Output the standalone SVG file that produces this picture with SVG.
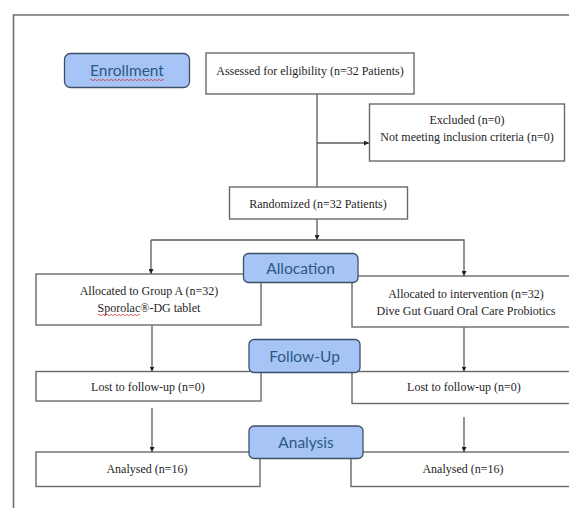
<svg xmlns="http://www.w3.org/2000/svg" width="569" height="508" viewBox="0 0 569 508">
<defs>
<style>
.frame{fill:none;stroke:#707070;stroke-width:1.6}
.box{fill:#ffffff;stroke:#6a6a6a;stroke-width:1.4}
.phase{fill:#a6c5f6;stroke:#3e5068;stroke-width:1.3}
.ptext{font-family:Lato,"Open Sans",sans-serif;font-size:15.5px;fill:#2c5884;text-anchor:middle;dominant-baseline:central}
.btext{font-family:"Liberation Serif","Times New Roman",serif;font-size:12px;fill:#1e1e1e;text-anchor:middle;dominant-baseline:central}
.conn{fill:none;stroke:#5a5a5a;stroke-width:1.3}
.squig{fill:none;stroke:#d23c3c;stroke-width:0.8}
</style>
<marker id="arr" viewBox="0 0 10 10" refX="10" refY="5" markerWidth="5" markerHeight="5" orient="auto" markerUnits="userSpaceOnUse">
<path d="M0,0 L10,5 L0,10 z" fill="#222222"/>
</marker>
</defs>
<rect width="569" height="508" fill="#ffffff"/>
<path class="frame" d="M13.5,510 V15 H575"/>

<g id="connectors">
<path class="conn" d="M317,94 V187"/>
<path class="conn" d="M317,143 H369" marker-end="url(#arr)"/>
<path class="conn" d="M317,219 V240" marker-end="url(#arr)"/>
<path class="conn" d="M151,240 H464 V276" marker-end="url(#arr)"/>
<path class="conn" d="M151,240 V274" marker-end="url(#arr)"/>
<path class="conn" d="M152,325 V371.5" marker-end="url(#arr)"/>
<path class="conn" d="M464,327 V371.5" marker-end="url(#arr)"/>
<path class="conn" d="M152,408 V452" marker-end="url(#arr)"/>
<path class="conn" d="M464,417 V452" marker-end="url(#arr)"/>
</g>

<g id="assessed">
<rect class="box" x="206" y="53" width="208" height="41"/>
<text class="btext" x="310" y="71">Assessed for eligibility (n=32 Patients)</text>
</g>
<g id="excluded">
<rect class="box" x="369.5" y="104" width="195" height="57"/>
<text class="btext" x="467" y="120">Excluded (n=0)</text>
<text class="btext" x="467" y="137">Not meeting inclusion criteria (n=0)</text>
</g>
<g id="randomized">
<rect class="box" x="229.5" y="187" width="178" height="32"/>
<text class="btext" x="318" y="204">Randomized (n=32 Patients)</text>
</g>
<g id="groupA">
<rect class="box" x="36" y="274" width="225" height="51"/>
<text class="btext" x="149" y="291">Allocated to Group A (n=32)</text>
<text class="btext" x="149" y="308">Sporolac®-DG tablet</text>
<path class="squig" d="M98,315 q1,-1.5 2,0 t2,0 t2,0 t2,0 t2,0 t2,0 t2,0 t2,0 t2,0 t2,0 t2,0 t2,0 t2,0 t2,0 t2,0 t2,0 t2,0 t2,0 t2,0 t2,0 t2,0"/>
</g>
<g id="groupB">
<rect class="box" x="352" y="276" width="230" height="51"/>
<text class="btext" x="466" y="294">Allocated to intervention (n=32)</text>
<text class="btext" x="466" y="311">Dive Gut Guard Oral Care Probiotics</text>
</g>
<g id="lostA">
<rect class="box" x="36" y="371.5" width="225" height="29.5"/>
<text class="btext" x="148" y="386.5">Lost to follow-up (n=0)</text>
</g>
<g id="lostB">
<rect class="box" x="352" y="371.5" width="230" height="32"/>
<text class="btext" x="464" y="387">Lost to follow-up (n=0)</text>
</g>
<g id="analysedA">
<rect class="box" x="36" y="452" width="224" height="34.5"/>
<text class="btext" x="147" y="469">Analysed (n=16)</text>
</g>
<g id="analysedB">
<rect class="box" x="351" y="452" width="231" height="34.5"/>
<text class="btext" x="463" y="469">Analysed (n=16)</text>
</g>

<g id="enrollment">
<rect class="phase" x="64.5" y="53.5" width="125" height="34" rx="6"/>
<text class="ptext" x="127" y="70">Enrollment</text>
<path class="squig" d="M90,80 q1,-1.5 2,0 t2,0 t2,0 t2,0 t2,0 t2,0 t2,0 t2,0 t2,0 t2,0 t2,0 t2,0 t2,0 t2,0 t2,0 t2,0 t2,0 t2,0 t2,0 t2,0 t2,0 t2,0 t2,0 t2,0 t2,0 t2,0 t2,0 t2,0 t2,0 t2,0 t2,0 t2,0 t2,0 t2,0 t2,0 t2,0 t2,0"/>
</g>
<g id="allocation">
<rect class="phase" x="243.5" y="253.5" width="114.5" height="29" rx="5"/>
<text class="ptext" x="300.5" y="267.5">Allocation</text>
</g>
<g id="followup">
<rect class="phase" x="249" y="339.5" width="111" height="33" rx="5"/>
<text class="ptext" x="304.5" y="356">Follow-Up</text>
</g>
<g id="analysis">
<rect class="phase" x="249" y="426" width="114" height="32.5" rx="5"/>
<text class="ptext" x="306" y="442">Analysis</text>
</g>
</svg>
